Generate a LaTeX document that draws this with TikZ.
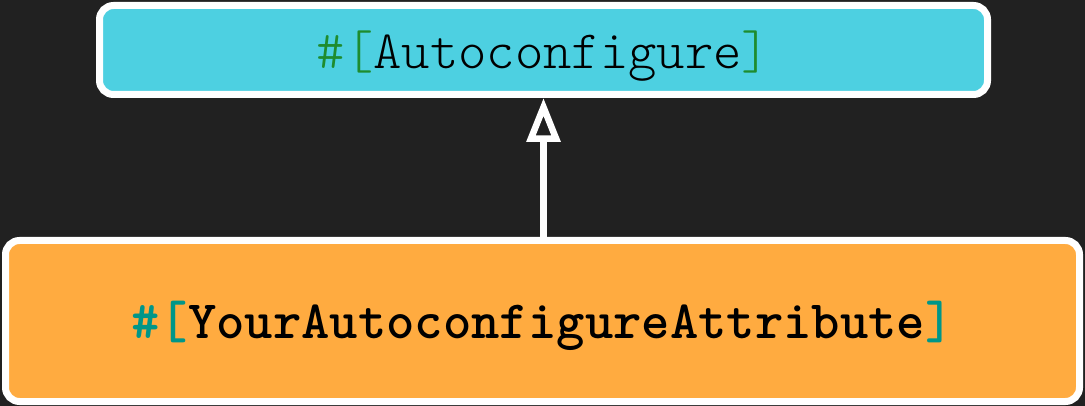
\documentclass[tikz,border=0pt]{standalone}
\usepackage{fontspec}
\usetikzlibrary{arrows.meta}
\definecolor{bgdark}{HTML}{212121}
\definecolor{boxcyan}{HTML}{4DD0E1}
\definecolor{boxorange}{HTML}{FFAB40}
\definecolor{attrgreen}{HTML}{1E8C2E}
\definecolor{attrteal}{HTML}{009688}
\tikzset{
  attrbox/.style={draw=white, line width=7pt, rounded corners=14pt,
    inner sep=0pt, font=\fontsize{54}{58}\selectfont\ttfamily},
  inherit/.style={draw=white, line width=6.5pt,
    -{Triangle[open, length=44pt, width=33pt]}}
}
\begin{document}
\begin{tikzpicture}[x=1pt, y=-1pt]
  \fill[bgdark] (0,0) rectangle (1085,406);
  \useasboundingbox (0,0) rectangle (1085,406);
  % base attribute
  \node[attrbox, fill=boxcyan, minimum width=888pt, minimum height=89pt]
    (base) at (543.5,50)
    {\raisebox{-6pt}[\height][\depth]{\fontseries{l}\selectfont\textcolor{attrgreen}{\#[}Autoconfigure\textcolor{attrgreen}{]}}};
  % user attribute
  \node[attrbox, fill=boxorange, minimum width=1074pt, minimum height=161pt]
    (derived) at (542.5,321)
    {\raisebox{-5pt}[\height][\depth]{\bfseries\textcolor{attrteal}{\#[}YourAutoconfigureAttribute\textcolor{attrteal}{]}}};
  % inheritance arrow
  \draw[inherit] (derived.north -| base.south) -- (base.south);
\end{tikzpicture}
\end{document}
